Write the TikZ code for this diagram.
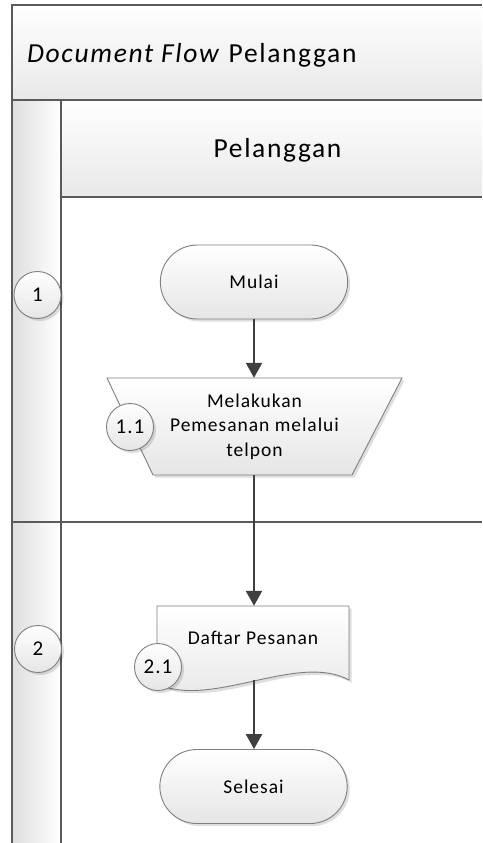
\documentclass[tikz,border=0pt]{standalone}
\usepackage{fontspec}
\setmainfont{Carlito}
\newfontfamily\headfont[LetterSpace=6]{Carlito}
\newfontfamily\bodyfont[LetterSpace=5]{Carlito}
\usetikzlibrary{shapes.misc,shadows,arrows.meta}

\definecolor{frameline}{HTML}{5A5A5A}
\definecolor{shapeline}{HTML}{7F7F7F}
\definecolor{arrowline}{HTML}{3F3F3F}

\tikzset{
  frame/.style={draw=frameline, line width=1.4pt},
  softshadow/.style={drop shadow={shadow xshift=2.5pt, shadow yshift=-2.5pt, fill=black, opacity=0.13}},
  boxfill/.style={top color=white, bottom color=black!10, draw=shapeline, line width=0.9pt},
  terminal/.style={rounded rectangle, boxfill, softshadow, minimum width=194pt, minimum height=74pt,
    font=\bodyfont\fontsize{19.5}{25}\selectfont},
  stepno/.style={circle, boxfill, softshadow, minimum size=47pt, inner sep=0pt,
    font=\bodyfont\fontsize{21}{25}\selectfont},
  flow/.style={draw=arrowline, line width=2.4pt, -{Triangle[width=16pt,length=15pt]}},
  label/.style={inner sep=0pt, align=center, font=\bodyfont\fontsize{19.5}{24.5}\selectfont}
}

\begin{document}
\begin{tikzpicture}[x=1pt, y=-1pt]
  \useasboundingbox (0,0) rectangle (482,843);
  \fill[white] (0,0) rectangle (482,843);

  % swimlane frame
  \shade[top color=white, bottom color=black!9] (12,5) rectangle (482,100);
  \shade[left color=black!13, right color=white] (12,100) rectangle (61,843);
  \shade[top color=white, bottom color=black!9] (61,100) rectangle (482,197);
  \draw[frame] (482,5) -- (12,5) -- (12,843);
  \draw[frame] (12,100) -- (482,100);
  \draw[frame] (61,100) -- (61,843);
  \draw[frame] (61,197) -- (482,197);
  \draw[frame] (12,522) -- (482,522);

  \node[anchor=west, inner sep=0pt, font=\headfont\fontsize{27.5}{32}\selectfont] (title) at (27,55)
    {\textit{Document Flow} Pelanggan};
  \node[inner sep=0pt, font=\headfont\fontsize{27.5}{32}\selectfont] (lane) at (277.5,150) {Pelanggan};

  % phase numbers
  \node[stepno] (p1) at (37.5,295) {1};
  \node[stepno] (p2) at (38,649) {2};

  % start
  \node[terminal] (mulai) at (254,282) {Mulai};

  % manual input: order by telephone
  \fill[black, opacity=0.13] (109.5,380.5) -- (404.5,380.5) -- (354.5,477.5) -- (155.5,477.5) -- cycle;
  \draw[boxfill] (107,378) -- (402,378) -- (352,475) -- (153,475) -- cycle;
  \node[label, minimum width=190pt, minimum height=97pt] (input) at (254.5,426.5)
    {Melakukan\\Pemesanan melalui\\telpon};
  \node[stepno] (s11) at (130,427) {1.1};

  % document: order list
  \fill[black, opacity=0.13] (159.5,608.5) -- (351.5,608.5) -- (351.5,682.5)
    .. controls (300,655) and (215,712) .. (159.5,686.5) -- cycle;
  \draw[boxfill] (157,606) -- (349,606) -- (349,680)
    .. controls (298,652) and (212,709) .. (157,684) -- cycle;
  \node[inner sep=0pt, minimum width=192pt, minimum height=74pt] (doc) at (253,643) {};
  \node[label] (doctext) at (253,638) {Daftar Pesanan};
  \node[stepno] (s21) at (158,667) {2.1};

  % end
  \node[terminal] (selesai) at (253.5,786.5) {Selesai};

  % connectors
  \draw[flow] (mulai.south) -- (mulai.south |- input.north);
  \draw[flow] (mulai.south |- input.south) -- (mulai.south |- doc.north);
  \draw[flow] ([yshift=-37pt]doc.center -| mulai.south) -- (mulai.south |- selesai.north);
\end{tikzpicture}
\end{document}
